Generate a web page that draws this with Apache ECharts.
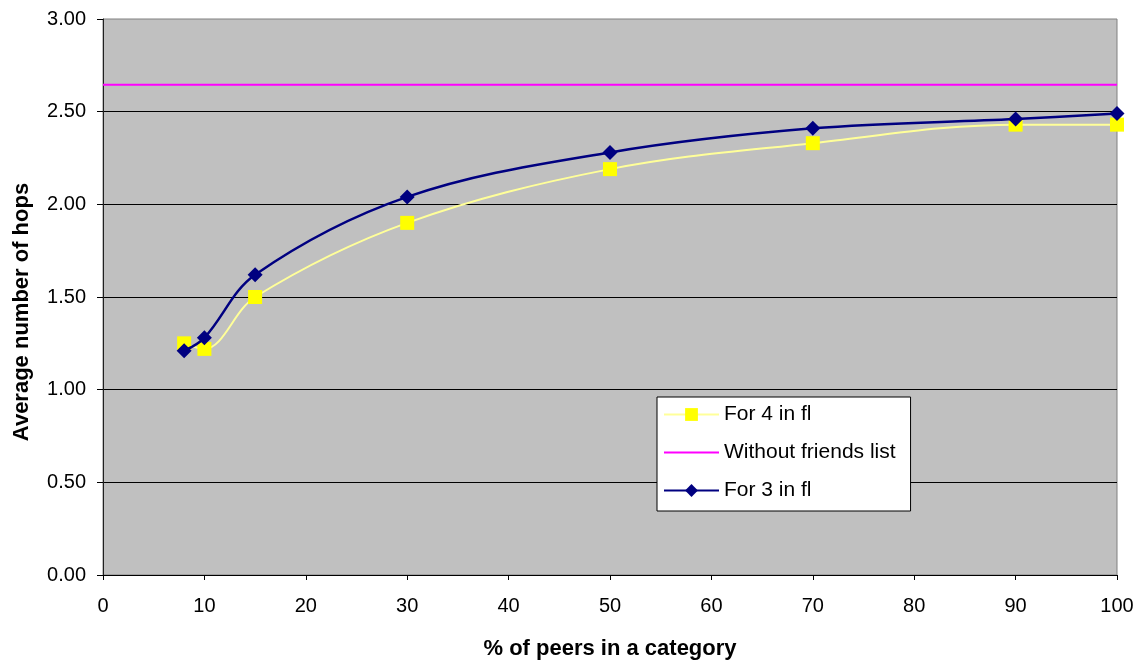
<!DOCTYPE html>
<html>
<head>
<meta charset="utf-8">
<script src="https://cdn.jsdelivr.net/npm/echarts@6/dist/echarts.min.js"></script>
<style>
  html, body { margin: 0; padding: 0; background: #ffffff; }
  #chart { width: 1147px; height: 665px; }
</style>
</head>
<body>
<div id="chart"></div>
<script>
// Percentage of peers in a category (x positions of the measurements)
var peerPercent = [8, 10, 15, 30, 50, 70, 90, 100];
// Average hop counts with 4 entries in the friends list
var hopsFor4 = [1.25, 1.22, 1.50, 1.90, 2.19, 2.33, 2.43, 2.43];
// Average hop counts with 3 entries in the friends list
var hopsFor3 = [1.21, 1.28, 1.62, 2.04, 2.28, 2.41, 2.46, 2.49];
// Baseline without any friends list (constant across the range)
var baselineX = [0, 100];
var baselineHops = [2.645, 2.645];

function pairs(xs, ys) {
  return xs.map(function (x, i) { return [x, ys[i]]; });
}

var font = '"Liberation Sans", Arial, sans-serif';

var chart = echarts.init(document.getElementById('chart'), null, { renderer: 'canvas' });

chart.setOption({
  backgroundColor: '#ffffff',
  animation: false,
  textStyle: { fontFamily: font, color: '#000' },
  grid: {
    left: 103, top: 19, right: 30, bottom: 88,
    show: true,
    backgroundColor: '#c0c0c0',
    borderColor: '#808080',
    borderWidth: 1
  },
  legend: {
    orient: 'vertical',
    left: 657,
    top: 397,
    backgroundColor: '#ffffff',
    borderColor: '#000000',
    borderWidth: 1,
    borderRadius: 0,
    padding: [7, 15, 10, 6],
    itemWidth: 55,
    itemHeight: 16,
    itemGap: 17,
    textStyle: { fontFamily: font, fontSize: 21, color: '#000' },
    data: [
      'For 4 in fl',
      { name: 'Without friends list', itemStyle: { opacity: 0 } },
      'For 3 in fl'
    ]
  },
  xAxis: {
    type: 'value',
    min: 0, max: 100, interval: 10,
    name: '% of peers in a category',
    nameLocation: 'middle',
    nameGap: 63,
    nameTextStyle: { fontFamily: font, fontSize: 22, fontWeight: 'bold', color: '#000' },
    axisLine: { show: true, onZero: false, lineStyle: { color: '#000', width: 1 } },
    axisTick: { show: true, length: 5, lineStyle: { color: '#000' } },
    axisLabel: { fontSize: 20, margin: 21, color: '#000', fontFamily: font },
    splitLine: { show: false }
  },
  yAxis: {
    type: 'value',
    min: 0, max: 3, interval: 0.5,
    name: 'Average number of hops',
    nameLocation: 'middle',
    nameGap: 70,
    nameTextStyle: {
      fontFamily: font, fontSize: 22, fontWeight: 'bold', color: '#000',
      padding: [0, 30, 0, 0]
    },
    axisLine: { show: true, lineStyle: { color: '#202020', width: 1 } },
    axisTick: { show: true, length: 6, lineStyle: { color: '#000' } },
    axisLabel: {
      fontSize: 20, margin: 17, color: '#000', fontFamily: font,
      formatter: function (v) { return v.toFixed(2); }
    },
    splitLine: { show: true, showMaxLine: false, lineStyle: { color: '#000', width: 1 } }
  },
  series: [
    {
      name: 'For 4 in fl',
      type: 'line',
      smooth: 0.35,
      data: pairs(peerPercent, hopsFor4),
      symbol: 'rect',
      symbolSize: 14,
      itemStyle: { color: '#ffff00' },
      lineStyle: { color: '#ffff99', width: 2 },
      z: 3
    },
    {
      name: 'Without friends list',
      type: 'line',
      data: pairs(baselineX, baselineHops),
      symbol: 'none',
      itemStyle: { color: '#ff00ff' },
      lineStyle: { color: '#ff00ff', width: 2 },
      z: 2
    },
    {
      name: 'For 3 in fl',
      type: 'line',
      smooth: 0.35,
      data: pairs(peerPercent, hopsFor3),
      symbol: 'diamond',
      symbolSize: [15, 15],
      itemStyle: { color: '#000080' },
      lineStyle: { color: '#000080', width: 2.5 },
      z: 4
    }
  ]
});
</script>
</body>
</html>
